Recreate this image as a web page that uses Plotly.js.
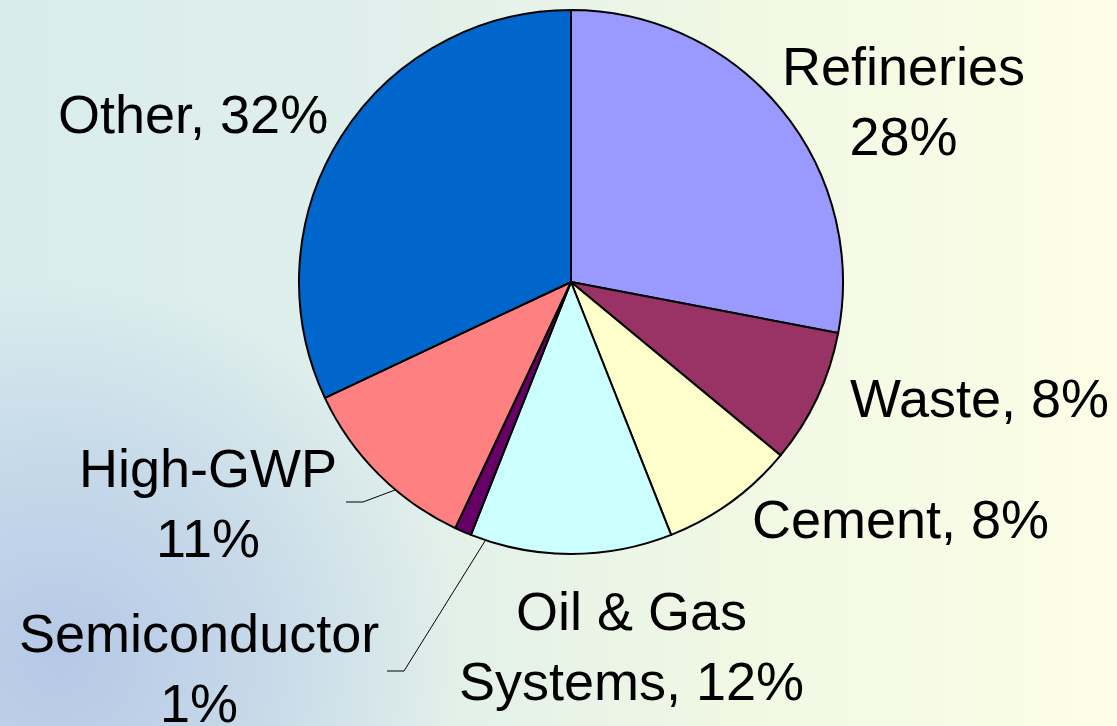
<!DOCTYPE html>
<html>
<head>
<meta charset="utf-8">
<script src="https://cdn.plot.ly/plotly-3.0.1.min.js"></script>
<style>
html,body{margin:0;padding:0;}
body{
  width:1117px;height:726px;overflow:hidden;
  background:
    radial-gradient(ellipse 400px 380px at 60px 660px, rgba(165,185,228,0.7) 0%, rgba(180,200,230,0.5) 55%, rgba(200,220,235,0) 100%),
    linear-gradient(90deg, #d9eced 0%, #e0efeb 35%, #f0f8e4 65%, #fdfee6 100%);
}
#chart{width:1117px;height:726px;}
</style>
</head>
<body>
<div id="chart"></div>
<script>
const categories = ["Refineries","Waste","Cement","Oil & Gas Systems","Semiconductor","High-GWP","Other"];
const shares = [28, 8, 8, 12, 1, 11, 32];
const sliceColors = ["#9999FF","#993366","#FFFFCC","#CCFFFF","#660066","#FF8080","#0066CC"];
const labelTexts = ["Refineries<br>28%","Waste, 8%","Cement, 8%","Oil & Gas<br>Systems, 12%","Semiconductor<br>1%","High-GWP<br>11%","Other, 32%"];

const W = 1117, H = 726;
const px = (x) => x / W;
const py = (y) => 1 - y / H;

// label centres (pixels) – layout only
const labelPos = [[903,101],[979,398],[900,519],[631,646],[199,668],[208,503],[193,114]];

const annotations = labelTexts.map((t, i) => ({
  text: t, xref: "paper", yref: "paper",
  x: px(labelPos[i][0]), y: py(labelPos[i][1]),
  xanchor: "center", yanchor: "middle", showarrow: false,
  font: {family: "Liberation Sans, Arial, sans-serif", size: 54, color: "#000"}
}));

const leader = (pts) => ({
  type: "path", xref: "paper", yref: "paper",
  path: pts.map((p, i) => (i ? "L" : "M") + px(p[0]) + "," + py(p[1])).join(" "),
  line: {color: "#000", width: 1}
});

const shapes = [
  leader([[346,502],[363,502],[395,490]]),
  leader([[387,671],[404,671],[485,541]])
];

const cx = 571, cy = 282, r = 272;
const data = [{
  type: "pie",
  labels: categories,
  values: shares,
  sort: false,
  direction: "clockwise",
  rotation: 0,
  textinfo: "none",
  hoverinfo: "label+percent",
  marker: {colors: sliceColors, line: {color: "#000", width: 2}},
  domain: {x: [px(cx - r), px(cx + r)], y: [py(cy + r), py(cy - r)]},
  showlegend: false
}];

const layout = {
  width: W, height: H,
  margin: {l: 0, r: 0, t: 0, b: 0},
  paper_bgcolor: "rgba(0,0,0,0)",
  plot_bgcolor: "rgba(0,0,0,0)",
  showlegend: false,
  annotations: annotations,
  shapes: shapes
};

Plotly.newPlot("chart", data, layout, {displayModeBar: false, staticPlot: true});
</script>
</body>
</html>
